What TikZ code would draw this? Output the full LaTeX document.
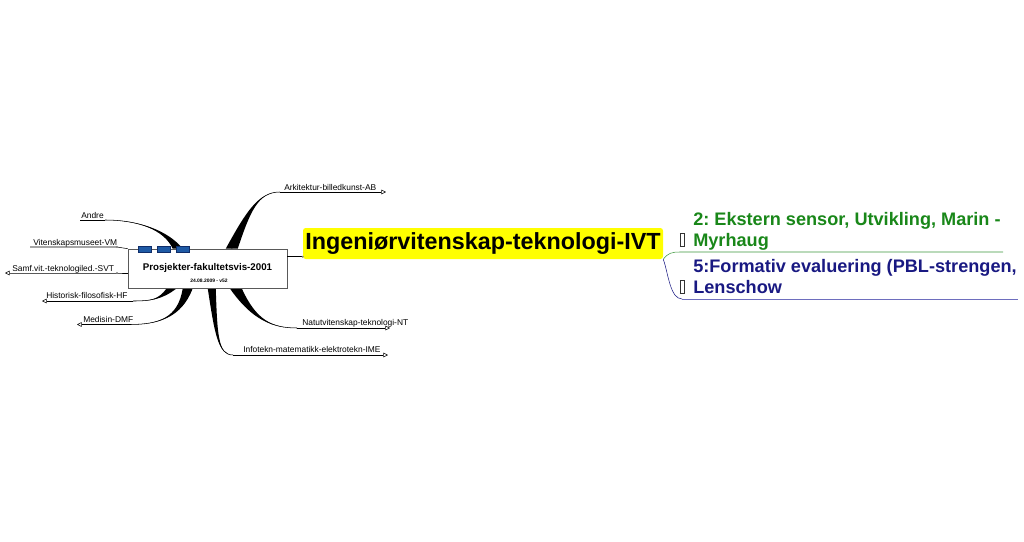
\documentclass[tikz,border=0pt]{standalone}
\usepackage{fontspec}
\setmainfont{Liberation Sans}
\usetikzlibrary{arrows.meta,calc}
\frenchspacing
\definecolor{ivtyellow}{RGB}{255,255,0}
\definecolor{tabblue}{RGB}{30,90,165}
\definecolor{tabline}{RGB}{15,45,105}
\definecolor{sensgreen}{RGB}{25,135,25}
\definecolor{sensline}{RGB}{60,150,60}
\definecolor{evalnavy}{RGB}{25,25,130}
\definecolor{evalline}{RGB}{110,110,190}
% tapered branch: thick end, control 1, control 2, thin end, half width
\newcommand\branchfill[5]{%
  \fill ($(#1)+(-#5,0)$) .. controls ($(#2)+(-#5/3,0)$) and (#3) .. (#4)
    .. controls (#3) and ($(#2)+(#5/3,0)$) .. ($(#1)+(#5,0)$) -- cycle;
  \draw (#1) .. controls (#2) and (#3) .. (#4);}
\newcommand\nullglyph{{\color{black!80}\fboxsep=0pt\fboxrule=0.4pt\fbox{\hspace{0.2em}\rule{0pt}{0.72em}}}}

\begin{document}
\begin{tikzpicture}
[x=0.75pt,y=-0.75pt,
>={Triangle[open,length=3.5pt,width=3.5pt]},
lbl/.style={font=\fontsize{6.3}{7}\selectfont, inner sep=0pt, anchor=base west},
tab/.style={fill=tabblue, draw=tabline, line width=0.4pt},
topic/.style={font=\bfseries\fontsize{13.6}{15.75}\selectfont, align=left,
  inner sep=0pt, anchor=north west}]
  \useasboundingbox (0,0) rectangle (1024,542);
  \node [draw=gray!70!black, fill=white, minimum width=119.25pt,
    minimum height=29.25pt, inner sep=0pt] (box) at (207.5,268.5) {};
  % branch ends
  \coordinate (andre-o) at (80,220);   \coordinate (andre-i) at (105,220);
  \coordinate (vm-o) at (30,247);      \coordinate (vm-i) at (117,247);
  \coordinate (svt-o) at (5,273);      \coordinate (svt-i) at (117,273);
  \coordinate (hf-o) at (42,301);      \coordinate (hf-i) at (133,301);
  \coordinate (dmf-o) at (77,324.5);   \coordinate (dmf-i) at (130,324.5);
  \coordinate (ab-i) at (280,192);     \coordinate (ab-o) at (386,192);
  \coordinate (nt-i) at (297,328);     \coordinate (nt-o) at (390,328);
  \coordinate (ime-i) at (233,355);    \coordinate (ime-o) at (388,355);
  % branch starts on the box
  \coordinate (andre-s) at ($(box.north west)+(50,0)$);
  \coordinate (ab-s) at ($(box.north west)+(104,0)$);
  \coordinate (hf-s) at ($(box.south west)+(44,0)$);
  \coordinate (dmf-s) at ($(box.south west)+(60,0)$);
  \coordinate (ime-s) at ($(box.south west)+(84,0)$);
  \coordinate (nt-s) at ($(box.south west)+(108,0)$);
  \branchfill{andre-s}{166,230}{138,220}{andre-i}{5}
  \branchfill{ab-s}{248,212}{258,192}{ab-i}{6}
  \branchfill{hf-s}{160,300}{150,301}{hf-i}{5}
  \branchfill{dmf-s}{180,318}{158,324.5}{dmf-i}{5}
  \branchfill{ime-s}{216,334}{218,355}{ime-i}{4}
  \branchfill{nt-s}{254,320}{272,328}{nt-i}{6}
  \node [draw=gray!70!black, fill=white, minimum width=119.25pt,
    minimum height=29.25pt, inner sep=0pt] at (box) {};
  \node [font=\bfseries\fontsize{7.3}{8}\selectfont, inner sep=0pt, anchor=base]
    (title) at (207.5,270) {Prosjekter-fakultetsvis-2001};
  \node [font=\bfseries\fontsize{3.7}{4}\selectfont, inner sep=0pt, anchor=base]
    (date) at (209,282) {24.08.2009 - v52};
  \draw [tab] (138,246) rectangle (151,252);
  \draw [tab] (157,246) rectangle (170,252);
  \draw [tab] (176,246) rectangle (189,252);
  % labels
  \node [lbl] (andre) at (81,218) {Andre};
  \node [lbl] (vm) at (33,245) {Vitenskapsmuseet-VM};
  \node [lbl] (svt) at (12,271) {Samf.vit.-teknologiled.-SVT};
  \node [lbl] (hf) at (46,298) {Historisk-filosofisk-HF};
  \node [lbl] (dmf) at (83,322) {Medisin-DMF};
  \node [lbl] (ab) at (284,190) {Arkitektur-billedkunst-AB};
  \node [lbl] (nt) at (302,325.5) {Natutvitenskap-teknologi-NT};
  \node [lbl] (ime) at (243,352.5) {Infotekn-matematikk-elektrotekn-IME};
  \draw (andre-o) -- (andre-i);
  \draw (vm-o) -- (vm-i) -- (box.north west);
  \draw [<-] (svt-o) -- (svt-i) -- (box.west |- svt-i);
  \draw [<-] (hf-o) -- (hf-i);
  \draw [<-] (dmf-o) -- (dmf-i);
  \draw [->] (ab-i) -- (ab-o);
  \draw [->] (nt-i) -- (nt-o);
  \draw [->] (ime-i) -- (ime-o);
  \fill [gray] (vm-i) circle (1.2);
  \fill [gray] (svt-i) circle (1.2);
  % main topic
  \node [fill=ivtyellow, rounded corners=2pt, minimum width=270pt,
    minimum height=23.25pt, inner sep=0pt,
    font=\bfseries\fontsize{17.5}{20}\selectfont] (ivt) at (483,243.5)
    {Ingeniørvitenskap-teknologi-IVT};
  \coordinate (box-r) at ($(box.north east)+(0,8)$);
  \coordinate (ivt-l) at (ivt.west |- box-r);
  \draw (box-r) -- (ivt-l);
  \fill [gray] (ivt-l) circle (1.2);
  % sub topics
  \node [topic, text=sensgreen] (sens) at (693,212)
    {2: Ekstern sensor, Utvikling, Marin -\\\llap{\nullglyph\hspace{6.5pt}}Myrhaug};
  \node [topic, text=evalnavy] (eval) at (693,259)
    {5:Formativ evaluering (PBL-strengen,\\\llap{\nullglyph\hspace{6.5pt}}Lenschow};
  \coordinate (sens-a) at (680,252);  \coordinate (sens-b) at (1003,252);
  \coordinate (eval-a) at (682,299);  \coordinate (eval-b) at (1018,299);
  \draw [sensline] (ivt.south east) .. controls (668,253) and (672,252) .. (sens-a) -- (sens-b);
  \draw [evalnavy] (ivt.south east) .. controls (668,272) and (670,299) .. (eval-a);
  \draw [evalline] (eval-a) -- (eval-b);
\end{tikzpicture}
\end{document}
